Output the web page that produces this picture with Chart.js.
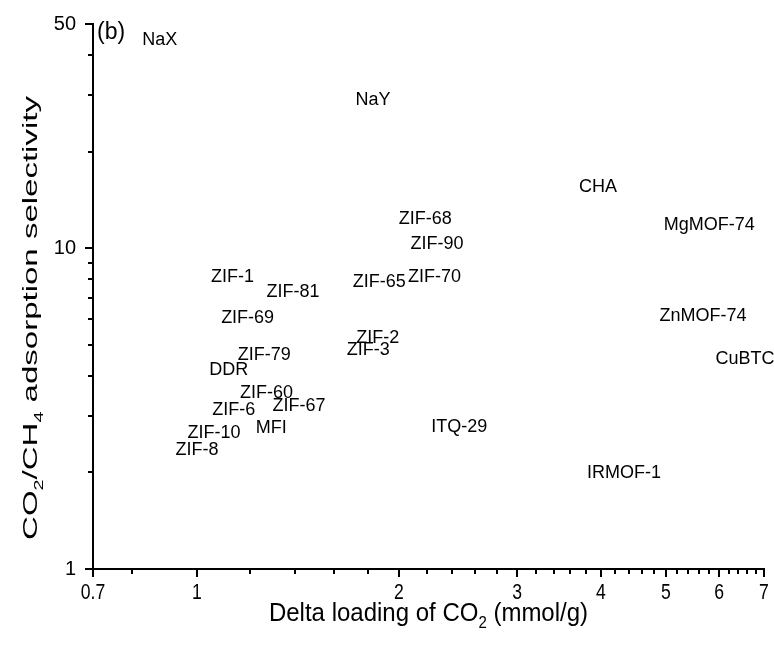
<!DOCTYPE html>
<html>
<head>
<meta charset="utf-8">
<script src="https://cdn.jsdelivr.net/npm/chart.js@4/dist/chart.umd.min.js"></script>
<style>
  body { margin: 0; background: #fff; }
  #wrap { width: 774px; height: 648px; }
</style>
</head>
<body>
<div id="wrap"><canvas id="chart" width="774" height="648"></canvas></div>
<script>
// material names, delta CO2 loading (mmol/g), CO2/CH4 selectivity
const materials = ['NaX', 'NaY', 'CHA', 'MgMOF-74', 'ZIF-68', 'ZIF-90', 'ZIF-70', 'ZIF-65',
    'ZIF-1', 'ZIF-81', 'ZIF-69', 'ZnMOF-74', 'ZIF-2', 'ZIF-3', 'ZIF-79', 'CuBTC', 'DDR',
    'ZIF-60', 'ZIF-67', 'ZIF-6', 'MFI', 'ITQ-29', 'ZIF-10', 'ZIF-8', 'IRMOF-1'];
const deltaLoading = [0.88, 1.83, 3.96, 5.80, 2.19, 2.28, 2.26, 1.87,
    1.13, 1.39, 1.19, 5.68, 1.86, 1.80, 1.26, 6.56, 1.115,
    1.27, 1.42, 1.135, 1.29, 2.46, 1.06, 1.00, 4.33];
const selectivity = [44.6, 29.0, 15.5, 11.8, 12.3, 10.3, 8.13, 7.86,
    8.13, 7.30, 6.06, 6.13, 5.25, 4.80, 4.63, 4.52, 4.17,
    3.54, 3.22, 3.14, 2.76, 2.77, 2.65, 2.35, 1.99];

const xMajorTicks = [0.7, 1, 2, 3, 4, 5, 6, 7];
const xMinorTicks = [0.8, 1.2, 1.4, 1.6, 1.8, 2.2, 2.4, 2.6, 2.8, 3.2, 3.4, 3.6, 3.8,
    4.2, 4.4, 4.6, 4.8, 5.2, 5.4, 5.6, 5.8, 6.2, 6.4, 6.6, 6.8];
const yMajorTicks = [1, 10, 50];
const yMinorTicks = [2, 3, 4, 5, 6, 7, 8, 9, 20, 30, 40];

const FONT = '"Liberation Sans", Arial, sans-serif';

// draw text with subscripts, parts = [[text, isSub], ...], centred on x
function drawRich(ctx, parts, size) {
    const subSize = Math.round(size * 0.62);
    let total = 0;
    parts.forEach(p => {
        ctx.font = (p[1] ? subSize : size) + 'px ' + FONT;
        total += ctx.measureText(p[0]).width;
    });
    let x = -total / 2;
    parts.forEach(p => {
        ctx.font = (p[1] ? subSize : size) + 'px ' + FONT;
        ctx.fillText(p[0], x, p[1] ? size * 0.28 : 0);
        x += ctx.measureText(p[0]).width;
    });
}

const extrasPlugin = {
    id: 'extras',
    afterDraw(chart) {
        const ctx = chart.ctx;
        const xs = chart.scales.x, ys = chart.scales.y;
        const area = chart.chartArea;
        ctx.save();
        ctx.strokeStyle = '#000';
        ctx.fillStyle = '#000';
        ctx.lineWidth = 2;
        // tick marks
        const xTick = (v, len) => {
            const px = Math.round(xs.getPixelForValue(v));
            ctx.beginPath(); ctx.moveTo(px, area.bottom); ctx.lineTo(px, area.bottom + len); ctx.stroke();
        };
        const yTick = (v, len) => {
            const py = Math.round(ys.getPixelForValue(v));
            ctx.beginPath(); ctx.moveTo(area.left, py); ctx.lineTo(area.left - len, py); ctx.stroke();
        };
        xMajorTicks.forEach(v => xTick(v, 8));
        xMinorTicks.forEach(v => xTick(v, 5));
        yMajorTicks.forEach(v => yTick(v, 8));
        yMinorTicks.forEach(v => yTick(v, 5));

        // x tick labels (slightly narrow lettering as in the original)
        ctx.textAlign = 'center';
        ctx.textBaseline = 'middle';
        ctx.font = '20px ' + FONT;
        xMajorTicks.forEach(v => {
            ctx.save();
            ctx.translate(xs.getPixelForValue(v), area.bottom + 24);
            ctx.scale(0.88, 1.1);
            ctx.fillText(String(v), 0, 0);
            ctx.restore();
        });

        // point labels
        const meta = chart.getDatasetMeta(0);
        ctx.font = '18px ' + FONT;
        meta.data.forEach((pt, i) => {
            ctx.fillText(materials[i], pt.x, pt.y);
        });

        // panel letter
        ctx.textAlign = 'left';
        ctx.textBaseline = 'top';
        ctx.font = '23px ' + FONT;
        ctx.fillText('(b)', 97, 21);

        // axis titles
        ctx.textAlign = 'left';
        ctx.textBaseline = 'alphabetic';
        ctx.save();
        ctx.translate((area.left + area.right) / 2, 621);
        ctx.scale(1, 1.08);
        drawRich(ctx, [['Delta loading of CO', false], ['2', true], [' (mmol/g)', false]], 24);
        ctx.restore();

        ctx.save();
        ctx.translate(37, 318);
        ctx.rotate(-Math.PI / 2);
        ctx.scale(1.65, 1);
        drawRich(ctx, [['CO', false], ['2', true], ['/CH', false], ['4', true], [' adsorption selectivity', false]], 20);
        ctx.restore();
        ctx.restore();
    }
};

new Chart(document.getElementById('chart'), {
    type: 'scatter',
    data: {
        datasets: [{
            data: deltaLoading.map((x, i) => ({ x: x, y: selectivity[i] })),
            pointRadius: 0,
            pointHoverRadius: 0,
            showLine: false
        }]
    },
    options: {
        responsive: false,
        devicePixelRatio: 1,
        animation: false,
        events: [],
        layout: { padding: { top: 24, right: 10, left: 0, bottom: 0 } },
        plugins: { legend: { display: false }, tooltip: { enabled: false } },
        scales: {
            x: {
                type: 'logarithmic',
                min: 0.7,
                max: 7,
                afterBuildTicks: scale => { scale.ticks = xMajorTicks.map(v => ({ value: v })); },
                afterFit: scale => { scale.height = 79; },
                grid: { display: false },
                border: { display: true, color: '#000', width: 2 },
                ticks: { display: false }
            },
            y: {
                type: 'logarithmic',
                min: 1,
                max: 50,
                afterBuildTicks: scale => { scale.ticks = yMajorTicks.map(v => ({ value: v })); },
                afterFit: scale => { scale.width = 93; },
                grid: { display: false },
                border: { display: true, color: '#000', width: 2 },
                ticks: {
                    color: '#000',
                    font: { family: FONT, size: 20 },
                    padding: 9,
                    autoSkip: false,
                    callback: v => String(v)
                }
            }
        }
    },
    plugins: [extrasPlugin]
});
</script>
</body>
</html>
